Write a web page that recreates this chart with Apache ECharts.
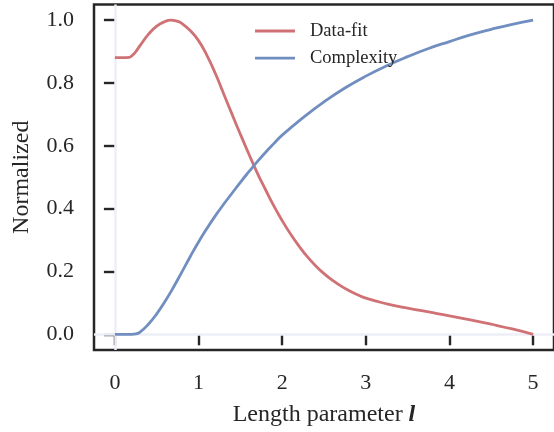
<!DOCTYPE html>
<html>
<head>
<meta charset="utf-8">
<script src="https://cdn.jsdelivr.net/npm/echarts@6/dist/echarts.min.js"></script>
<style>
  html, body { margin: 0; padding: 0; background: #fff; }
  #chart { width: 554px; height: 432px; }
</style>
</head>
<body>
<div id="chart"></div>
<script>
// Length parameter l and the two normalized curves
const dataFitX = [0, 0.1, 0.17, 0.2, 0.25, 0.3, 0.4, 0.5, 0.6, 0.67, 0.75, 0.8, 0.9, 1.0, 1.1, 1.2, 1.3, 1.4, 1.5,
  1.6, 1.7, 1.8, 1.9, 2.0, 2.1, 2.2, 2.3, 2.4, 2.5, 2.6, 2.7, 2.8, 2.9, 3.0, 3.25, 3.5, 3.75, 4.0, 4.25, 4.5, 4.75, 5.0];
const dataFitY = [0.881, 0.881, 0.882, 0.886, 0.9, 0.919, 0.955, 0.981, 0.996, 1.0, 0.996, 0.99, 0.967, 0.935, 0.888, 0.831, 0.766, 0.701, 0.637,
  0.575, 0.515, 0.461, 0.409, 0.362, 0.319, 0.281, 0.247, 0.218, 0.193, 0.172, 0.154, 0.139, 0.126, 0.115, 0.097, 0.083, 0.071, 0.059, 0.046, 0.032, 0.017, 0.0];

const complexityX = [0, 0.1, 0.2, 0.25, 0.3, 0.4, 0.5, 0.6, 0.7, 0.8, 0.9, 1.0, 1.1, 1.2, 1.3, 1.4, 1.5, 1.6, 1.7, 1.8,
  1.9, 2.0, 2.25, 2.5, 2.75, 3.0, 3.25, 3.5, 3.75, 4.0, 4.25, 4.5, 4.75, 5.0];
const complexityY = [0, 0, 0, 0.001, 0.007, 0.032, 0.065, 0.105, 0.15, 0.198, 0.247, 0.294, 0.337, 0.377, 0.414, 0.449, 0.484, 0.517, 0.549, 0.579,
  0.607, 0.634, 0.69, 0.74, 0.784, 0.822, 0.855, 0.884, 0.91, 0.932, 0.953, 0.971, 0.987, 1.0];

const xTicks = [0, 1, 2, 3, 4, 5];
const yTicks = [0, 0.2, 0.4, 0.6, 0.8, 1.0];

const serif = '"Liberation Serif", "DejaVu Serif", serif';
const ink = '#262626';
const red = '#d07175';
const blue = '#708ec0';

const pairs = (xs, ys) => xs.map((x, i) => [x, ys[i]]);

const chart = echarts.init(document.getElementById('chart'), null, { renderer: 'canvas' });
chart.setOption({
  animation: false,
  backgroundColor: '#ffffff',
  grid: {
    left: 94, right: -6.5, top: 4.5, bottom: 80.3,
    show: true, borderColor: ink, borderWidth: 2.5, backgroundColor: 'transparent'
  },
  legend: {
    show: true,
    orient: 'vertical',
    left: 250, top: 16,
    icon: 'rect',
    itemWidth: 40, itemHeight: 2.8, itemGap: 7.2,
    textStyle: { fontFamily: serif, fontSize: 18.5, color: ink, lineHeight: 20, padding: [0, 0, 0, 10] },
    data: ['Data-fit', 'Complexity']
  },
  xAxis: {
    type: 'value', min: -0.25, max: 5.25,
    name: 'Length parameter {i|l}',
    nameLocation: 'middle', nameGap: 53,
    nameTextStyle: {
      fontFamily: serif, fontSize: 24, color: ink,
      rich: { i: { fontFamily: serif, fontSize: 24, fontStyle: 'italic', fontWeight: 'bold', color: ink } }
    },
    axisLine: { show: false },
    splitLine: { show: false },
    axisTick: { show: true, length: 11, lineStyle: { color: ink, width: 2.4 }, customValues: xTicks },
    axisLabel: { fontFamily: serif, fontSize: 22, color: ink, margin: 22, customValues: xTicks, formatter: v => String(v) }
  },
  yAxis: {
    type: 'value', min: -0.05, max: 1.05,
    name: 'Normalized',
    nameLocation: 'middle', nameGap: 60,
    nameTextStyle: { fontFamily: serif, fontSize: 24, color: ink },
    axisLine: { show: false },
    splitLine: { show: false },
    axisTick: { show: true, length: 11, lineStyle: { color: ink, width: 2.4 }, customValues: yTicks },
    axisLabel: { fontFamily: serif, fontSize: 22, color: ink, margin: 20, customValues: yTicks, formatter: v => v.toFixed(1) }
  },
  series: [
    {
      name: 'Data-fit', type: 'line', z: 3,
      data: pairs(dataFitX, dataFitY),
      showSymbol: false, symbol: 'none',
      smooth: true,
      lineStyle: { color: red, width: 2.8 },
      itemStyle: { color: red },
      // light reference lines at l = 0 and at zero
      markLine: {
        silent: true, symbol: 'none', animation: false, z: 1,
        label: { show: false },
        lineStyle: { color: '#eceff7', width: 2.5, type: 'solid' },
        data: [{ xAxis: 0 }, { yAxis: 0 }]
      }
    },
    {
      name: 'Complexity', type: 'line', z: 3,
      data: pairs(complexityX, complexityY),
      showSymbol: false, symbol: 'none',
      smooth: true,
      lineStyle: { color: blue, width: 2.8 },
      itemStyle: { color: blue }
    }
  ]
});
</script>
</body>
</html>
